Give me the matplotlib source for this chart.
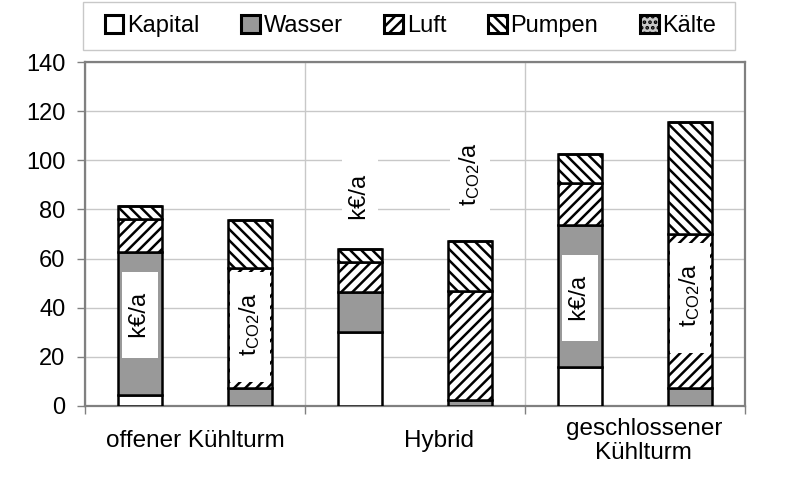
import matplotlib
matplotlib.use("Agg")
import matplotlib.pyplot as plt
import matplotlib.transforms as mtransforms
import matplotlib.patches as mpatches
import numpy as np

plt.rcParams['font.family'] = ['Liberation Sans', 'DejaVu Sans']
plt.rcParams['mathtext.fontset'] = 'custom'
plt.rcParams['mathtext.rm'] = 'Liberation Sans'
plt.rcParams['mathtext.it'] = 'Liberation Sans'
plt.rcParams['mathtext.default'] = 'regular'
plt.rcParams['hatch.linewidth'] = 1.8
plt.rcParams['hatch.color'] = 'black'

# ---- data ----
categories = ["offener Kühlturm", "Hybrid", "geschlossener\nKühlturm"]
series = ["Kapital", "Wasser", "Luft", "Pumpen", "Kälte"]
unit_labels = ["k€/a", "t$_{CO2}$/a"]

kapital_keur = [4.5, 30.3, 16.0]
wasser_keur = [58.3, 16.0, 57.5]
luft_keur = [13.3, 12.4, 17.1]
pumpen_keur = [5.3, 5.2, 12.0]
kaelte_keur = [0.0, 0.0, 0.0]

kapital_tco2 = [0.0, 0.0, 0.0]
wasser_tco2 = [7.2, 2.4, 7.2]
luft_tco2 = [48.8, 44.6, 62.7]
pumpen_tco2 = [19.7, 20.2, 45.6]
kaelte_tco2 = [0.0, 0.0, 0.0]

# label positions (value axis) for unit labels
label_y_keur = [37, 85, 44]
label_y_tco2 = [32, 93, 44]

# ---- styles ----
faces = ['white', '#999999', 'white', 'white', '#c8c8c8']
hatches = [None, None, '///', '\\\\\\', '...']

fig = plt.figure(figsize=(8, 4.92), dpi=100)
ax = fig.add_axes([85/800, 1-406/492, 660/800, 344/492])

x = np.arange(len(categories))
offset = 0.25
width = 0.2

keur = [kapital_keur, wasser_keur, luft_keur, pumpen_keur, kaelte_keur]
tco2 = [kapital_tco2, wasser_tco2, luft_tco2, pumpen_tco2, kaelte_tco2]

handles = []
for xs, data in [(x - offset, keur), (x + offset, tco2)]:
    bottom = np.zeros(len(categories))
    for i, vals in enumerate(data):
        vals = np.array(vals)
        b = ax.bar(xs, vals, width, bottom=bottom, facecolor=faces[i],
                   edgecolor='black', linewidth=1.8, hatch=hatches[i], zorder=3)
        if len(handles) < len(series):
            handles.append(b)
        bottom = bottom + vals

ax.set_xlim(-0.5, 2.5)
ax.set_ylim(0, 140)
ax.set_yticks(np.arange(0, 141, 20))
ax.set_xticks([-0.5, 0.5, 1.5, 2.5])
ax.set_xticklabels([])
ax.tick_params(axis='y', labelsize=17, length=6, width=1, color='#808080', pad=8)
ax.tick_params(axis='x', length=6, width=1, color='#808080')
ax.grid(True, axis='both', color='#c8c8c8', linewidth=1, zorder=0)
ax.set_axisbelow(True)
for s in ax.spines.values():
    s.set_color('#808080')
    s.set_linewidth(1.6)

# unit labels
bb = dict(boxstyle='square,pad=0.3', facecolor='white', edgecolor='none')
for i in range(len(categories)):
    ax.text(x[i] - offset, label_y_keur[i], "  " + unit_labels[0] + "  ", rotation=90,
            ha='center', va='center', fontsize=17, bbox=bb, zorder=5)
    ax.text(x[i] + offset, label_y_tco2[i], "   " + unit_labels[1] + "   ", rotation=90,
            ha='center', va='center', fontsize=17, bbox=bb, zorder=5)

# category labels
cat_dx = [0.0, 0.11, 0.04]
trans = mtransforms.blended_transform_factory(ax.transData, ax.transAxes)
for i, c in enumerate(categories):
    ax.text(x[i] + cat_dx[i], -0.102, c, transform=trans, ha='center', va='center',
            fontsize=17.5, linespacing=1.15)

# legend
fig.patches.append(mpatches.Rectangle((83/800, 1-50/492), 652/800, 48/492,
                                      transform=fig.transFigure, facecolor='white',
                                      edgecolor='#c8c8c8', linewidth=1, zorder=0))
leg = fig.legend(handles, series, loc='center', bbox_to_anchor=(410.5/800, 1-26/492),
                 ncol=5, fontsize=17, frameon=False, handlelength=0.78, handleheight=0.78,
                 handletextpad=0.17, columnspacing=1.77, borderpad=0.2)
for h in leg.legend_handles:
    h.set_linewidth(2.2)

fig.savefig("out.png", dpi=100)
